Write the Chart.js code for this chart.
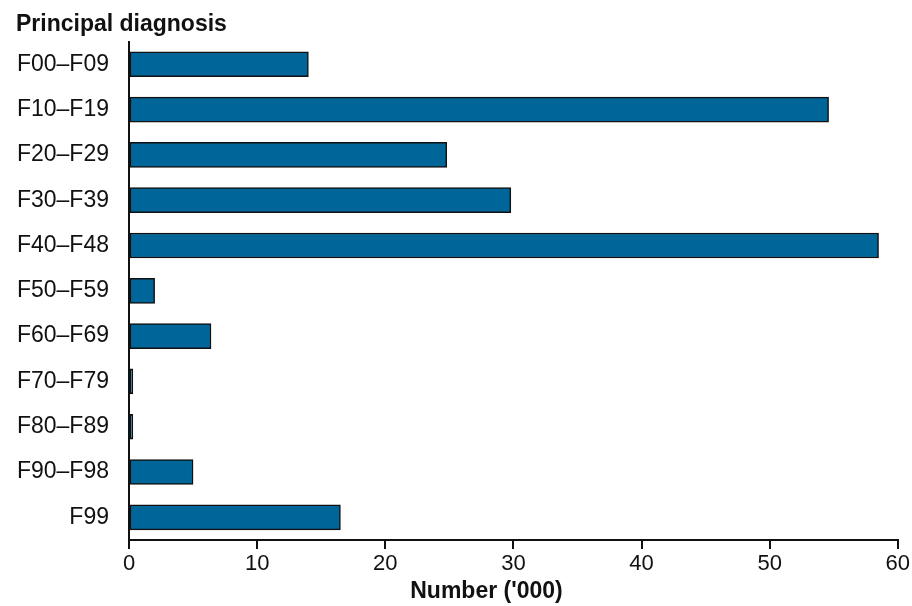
<!DOCTYPE html>
<html>
<head>
<meta charset="utf-8">
<script src="https://cdn.jsdelivr.net/npm/chart.js@4.4.0/dist/chart.umd.min.js"></script>
<style>
    html, body { margin: 0; padding: 0; background: #fff; }
    #wrap { width: 912px; height: 606px; }
</style>
</head>
<body>
<div id="wrap"><canvas id="grafico"></canvas></div>
<script>
// categorias e valores (milhares)
const categorias = ['F00–F09', 'F10–F19', 'F20–F29', 'F30–F39', 'F40–F48', 'F50–F59',
    'F60–F69', 'F70–F79', 'F80–F89', 'F90–F98', 'F99'];
const valores = [14.0, 54.6, 24.8, 29.8, 58.5, 2.0, 6.4, 0.3, 0.3, 5.0, 16.5];
const xTicks = [0, 10, 20, 30, 40, 50, 60];

const FONTE = "'Liberation Sans', Arial, sans-serif";

// titulo do eixo x, um pouco deslocado para a esquerda como no original
const tituloEixoX = {
    id: 'tituloEixoX',
    afterDraw(chart) {
        const { ctx, chartArea } = chart;
        ctx.save();
        ctx.font = `bold 23px ${FONTE}`;
        ctx.fillStyle = '#111';
        ctx.textAlign = 'center';
        ctx.textBaseline = 'middle';
        const x = chartArea.left + (chartArea.right - chartArea.left) * 0.465;
        ctx.fillText("Number ('000)", x, chart.height - 14);
        ctx.restore();
    }
};

const ctx = document.getElementById('grafico').getContext('2d');
const grafico = new Chart(ctx, {
    type: 'bar',
    data: {
        labels: categorias,
        datasets: [{
            data: valores,
            backgroundColor: '#006699',
            borderColor: '#111',
            borderWidth: 1.5,
            borderSkipped: false,
            barThickness: 25
        }]
    },
    options: {
        indexAxis: 'y',
        responsive: true,
        maintainAspectRatio: false,
        animation: false,
        layout: { padding: { left: 16, right: 12, top: 0, bottom: 0 } },
        plugins: {
            legend: { display: false },
            tooltip: { enabled: false },
            title: {
                display: true,
                text: 'Principal diagnosis',
                align: 'start',
                color: '#111',
                font: { family: FONTE, size: 23, weight: 'bold' },
                padding: { top: 11, bottom: 3 }
            }
        },
        scales: {
            x: {
                min: 0,
                max: 60,
                afterBuildTicks: s => { s.ticks = xTicks.map(v => ({ value: v })); },
                afterFit: s => { s.height = 66; },
                grid: {
                    drawOnChartArea: false,
                    drawTicks: true,
                    tickLength: 9,
                    color: '#111',
                    lineWidth: 2
                },
                border: { display: true, color: '#111', width: 2 },
                ticks: {
                    color: '#111',
                    padding: 2,
                    maxRotation: 0,
                    font: { family: FONTE, size: 22 }
                },
                title: { display: false }
            },
            y: {
                afterFit: s => { s.width = 113; },
                grid: { display: false, drawTicks: false },
                border: { display: true, color: '#111', width: 2 },
                ticks: {
                    color: '#111',
                    padding: 20,
                    font: { family: FONTE, size: 23 }
                }
            }
        }
    },
    plugins: [tituloEixoX]
});
</script>
</body>
</html>
